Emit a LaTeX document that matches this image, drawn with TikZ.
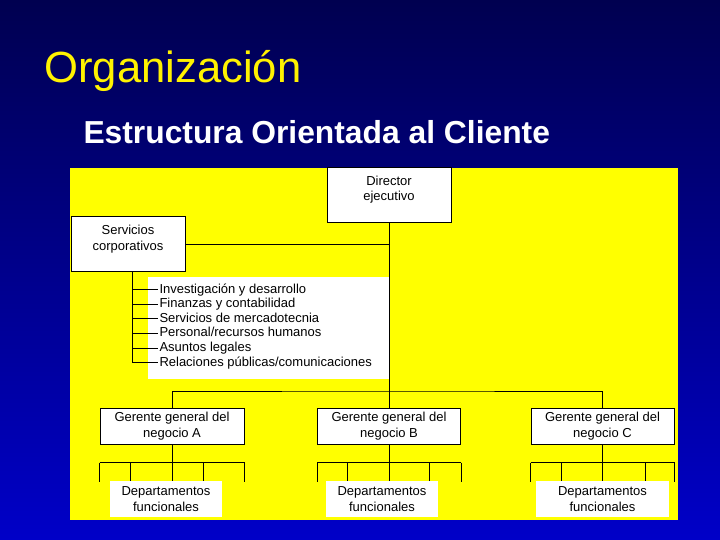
\documentclass[tikz,border=0pt]{standalone}
\usepackage{fontspec}
\setmainfont{Liberation Sans}
\usetikzlibrary{calc}
\definecolor{navytop}{RGB}{0,0,80}
\definecolor{bluebottom}{RGB}{0,0,200}
\definecolor{panelyellow}{RGB}{255,255,0}
\tikzset{
  orgbox/.style={draw=black, fill=white, inner sep=0pt, align=center},
  deptbox/.style={fill=white, inner sep=0pt, align=center, minimum width=112pt, minimum height=36pt},
  listitem/.style={anchor=west, inner sep=1pt, text height=9.5pt, text depth=2.5pt},
}

\begin{document}
\begin{tikzpicture}[x=1pt, y=-1pt, line width=1pt, font=\fontsize{13}{15.5}\selectfont]
\useasboundingbox (0,0) rectangle (720,540);
\shade[top color=navytop, bottom color=bluebottom] (0,0) rectangle (720,540);

\node[anchor=base west, inner sep=0pt, text=yellow, font=\fontsize{43.6}{44}\selectfont] (title) at (44,83) {Organización};
\node[anchor=base west, inner sep=0pt, text=white, font=\fontsize{31.8}{32}\selectfont\bfseries] (subtitle) at (83,144) {Estructura Orientada al Cliente};

\fill[panelyellow] (70,168) rectangle (678,520);
\fill[white] (148,277) rectangle (390,379);

% cajas
\node[orgbox, minimum width=124pt, minimum height=55pt, label={[align=center,yshift=6pt]center:Director\\ejecutivo}] (dir) at (389,195.5) {};
\node[orgbox, minimum width=114pt, minimum height=54pt, label={[align=center,yshift=5pt]center:Servicios\\corporativos}] (serv) at (128,244) {};

\node[orgbox, minimum width=144pt, minimum height=36pt] (gA) at (172,426) {Gerente general del\\negocio A};
\node[orgbox, minimum width=143pt, minimum height=36pt] (gB) at (389,426) {Gerente general del\\negocio B};
\node[orgbox, minimum width=143pt, minimum height=36pt] (gC) at (602.5,426) {Gerente general del\\negocio C};

\coordinate (bar) at (389,391);
\coordinate (corp) at (132,271);

\draw (dir.south) -- (bar);
\draw (serv.east) -- (serv.east -| dir.south);
\draw (gA.north) |- (bar) -| (gC.north);
\draw (bar) -- (gB.north);

\foreach \txt [count=\i] in {Investigación y desarrollo, Finanzas y contabilidad, Servicios de mercadotecnia, {Personal/recursos humanos}, Asuntos legales, {Relaciones públicas/comunicaciones}} {
  \node[listitem] (item\i) at (158,275+14.6*\i) {\txt};
  \draw (corp |- item\i.west) -- (item\i.west);
}
\draw (corp) -- (corp |- item6.west);

\foreach \g/\f in {gA/.715, gB/.78, gC/.8} {
  \draw (\g.south) -- ++(0,18);
  \draw ($(\g.south west)+(0,18)$) -- ($(\g.south east)+(0,18)$);
  \foreach \t in {0,.215,.5,\f,1}
    \draw ($(\g.south west)!\t!(\g.south east)+(0,18)$) -- ++(0,19);
}

\node[deptbox] (dA) at (166,499) {Departamentos\\funcionales};
\node[deptbox] (dB) at (382,499) {Departamentos\\funcionales};
\node[deptbox, minimum width=133pt] (dC) at (602.5,499) {Departamentos\\funcionales};
\end{tikzpicture}
\end{document}
